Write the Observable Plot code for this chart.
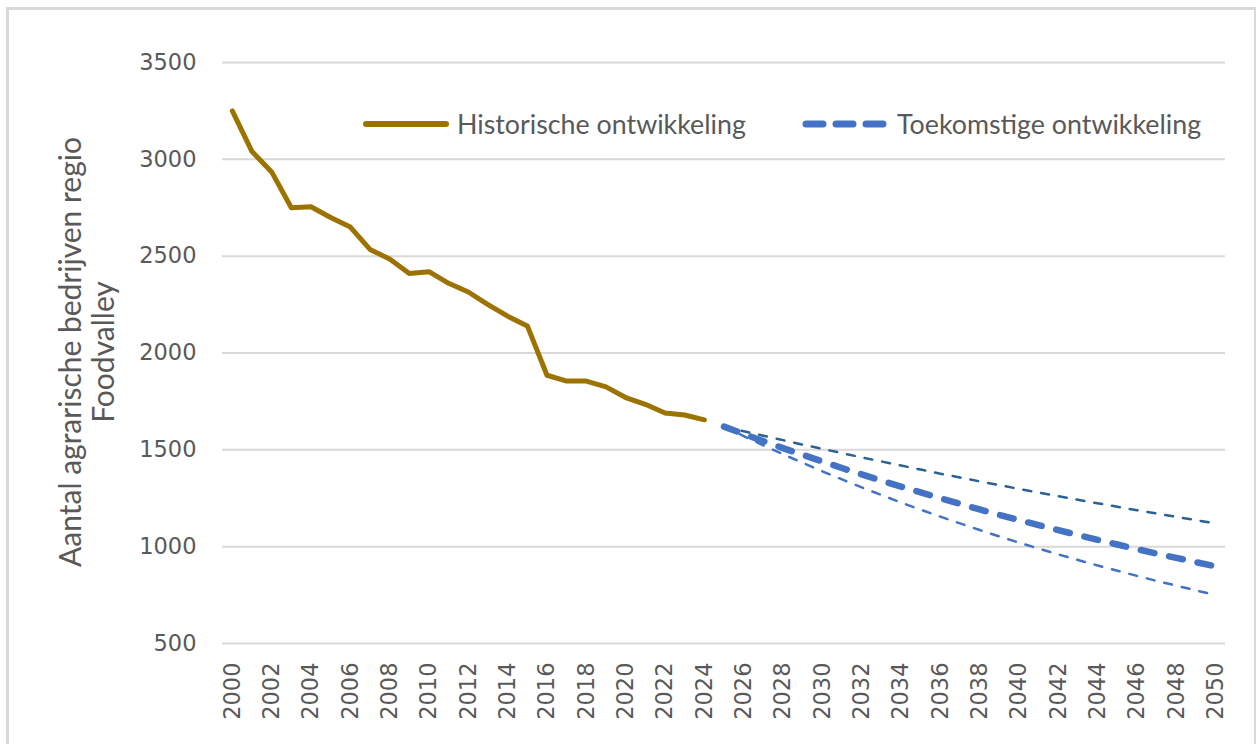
<!DOCTYPE html>
<html>
<head>
<meta charset="utf-8">
<script src="https://cdn.jsdelivr.net/npm/d3@7"></script>
<script src="https://cdn.jsdelivr.net/npm/@observablehq/plot@0.6"></script>
<style>
  html, body { margin: 0; padding: 0; background: #fff; }
  #wrap { position: relative; width: 1260px; height: 744px; overflow: hidden; }
  #border { position: absolute; left: 6px; top: 7px; width: 1250px; height: 760px;
            border-left: 3px solid #d9d9d9; border-top: 3px solid #d9d9d9; border-right: 2px solid #d9d9d9; box-sizing: border-box; }
  #chart { position: absolute; left: 0; top: 0; }
  .leg { position: absolute; display: flex; align-items: center; font-family: Lato, sans-serif; font-size: 26.8px; color: #595959; white-space: nowrap; }
  .leg svg { margin-right: 7px; }
  #ytitle { position: absolute; left: 86px; top: 352px; transform: translate(-50%, -50%) rotate(-90deg);
            font-family: Lato, sans-serif; font-size: 30px; line-height: 33px; color: #595959; text-align: center; white-space: nowrap; }
</style>
</head>
<body>
<div id="wrap">
  <div id="border"></div>
  <div id="chart"></div>
  <div class="leg" id="leg1" style="left:362px; top:108px;"></div>
  <div class="leg" id="leg2" style="left:802px; top:108px;"></div>
  <div id="ytitle"></div>
</div>
<script>
// ---- Data ----
const histYears = [2000,2001,2002,2003,2004,2005,2006,2007,2008,2009,2010,2011,2012,2013,2014,2015,2016,2017,2018,2019,2020,2021,2022,2023,2024];
const histValues = [3250,3040,2935,2750,2755,2700,2650,2535,2485,2410,2420,2360,2315,2250,2190,2140,1885,1855,1855,1825,1770,1735,1690,1680,1655];

const futYears = [2025,2026,2027,2028,2029,2030,2031,2032,2033,2034,2035,2036,2037,2038,2039,2040,2041,2042,2043,2044,2045,2046,2047,2048,2049,2050];
const futMiddle = [1620,1582,1545,1509,1474,1440,1406,1373,1341,1310,1280,1250,1221,1192,1164,1137,1111,1085,1060,1035,1011,987,964,942,920,898];
const futHigh = [1620,1596,1573,1550,1527,1505,1483,1461,1440,1419,1398,1377,1357,1337,1318,1298,1279,1261,1242,1224,1206,1188,1171,1154,1137,1120];
const futLow = [1620,1571,1523,1477,1433,1389,1347,1306,1267,1228,1191,1155,1120,1086,1053,1021,990,960,931,903,876,849,823,799,774,751];

const yTicks = [500,1000,1500,2000,2500,3000,3500];
const xTicks = [2000,2002,2004,2006,2008,2010,2012,2014,2016,2018,2020,2022,2024,2026,2028,2030,2032,2034,2036,2038,2040,2042,2044,2046,2048,2050];

const yTitleLines = ["Aantal agrarische bedrijven regio", "Foodvalley"];
const legendLabels = ["Historische ontwikkeling", "Toekomstige ontwikkeling"];

// ---- Build tables ----
const hist = histYears.map((y, i) => ({year: y, value: histValues[i]}));
const mid = futYears.map((y, i) => ({year: y, value: futMiddle[i]}));
const high = futYears.map((y, i) => ({year: y, value: futHigh[i]}));
const low = futYears.map((y, i) => ({year: y, value: futLow[i]}));

const chart = Plot.plot({
  width: 1260,
  height: 744,
  marginLeft: 222,
  marginRight: 35,
  marginTop: 62,
  marginBottom: 101,
  style: {fontFamily: "'DejaVu Sans', sans-serif", fontSize: "22.5px", color: "#595959", background: "transparent"},
  x: {domain: [1999.5, 2050.5]},
  y: {domain: [500, 3500]},
  marks: [
    Plot.gridY(yTicks, {stroke: "#d9d9d9", strokeOpacity: 1, strokeWidth: 2}),
    Plot.axisY(yTicks, {tickSize: 0, tickPadding: 26, tickFormat: d => String(d), label: null, fill: "#595959"}),
    Plot.axisX(xTicks, {tickSize: 0, tickPadding: 19, tickRotate: -90, tickFormat: d => String(d), label: null, fill: "#595959"}),
    Plot.line(hist, {x: "year", y: "value", stroke: "#9c7200", strokeWidth: 5, strokeLinejoin: "round", strokeLinecap: "round"}),
    Plot.line(high, {x: "year", y: "value", stroke: "#2b6294", strokeWidth: 2.5, strokeDasharray: "8,10", strokeLinecap: "round"}),
    Plot.line(low, {x: "year", y: "value", stroke: "#4472c4", strokeWidth: 2.5, strokeDasharray: "8,10", strokeLinecap: "round"}),
    Plot.line(mid, {x: "year", y: "value", stroke: "#4472c4", strokeWidth: 6.5, strokeDasharray: "14,15", strokeLinecap: "round"})
  ]
});
document.getElementById("chart").appendChild(chart);

// Legend
const NS = "http://www.w3.org/2000/svg";
function swatch(dashed) {
  const s = document.createElementNS(NS, "svg");
  s.setAttribute("width", 88); s.setAttribute("height", 14);
  const l = document.createElementNS(NS, "line");
  l.setAttribute("x1", 4); l.setAttribute("x2", 84); l.setAttribute("y1", 7); l.setAttribute("y2", 7);
  l.setAttribute("stroke-linecap", "round");
  if (dashed) {
    l.setAttribute("stroke", "#4472c4"); l.setAttribute("stroke-width", 7);
    l.setAttribute("stroke-dasharray", "17,13");
  } else {
    l.setAttribute("stroke", "#9c7200"); l.setAttribute("stroke-width", 6);
  }
  s.appendChild(l);
  return s;
}
const leg1 = document.getElementById("leg1");
leg1.appendChild(swatch(false));
leg1.appendChild(document.createTextNode(legendLabels[0]));
const leg2 = document.getElementById("leg2");
leg2.appendChild(swatch(true));
leg2.appendChild(document.createTextNode(legendLabels[1]));

// Y title
const yt = document.getElementById("ytitle");
yTitleLines.forEach((t, i) => {
  const d = document.createElement("div");
  d.textContent = t;
  yt.appendChild(d);
});
</script>
</body>
</html>
